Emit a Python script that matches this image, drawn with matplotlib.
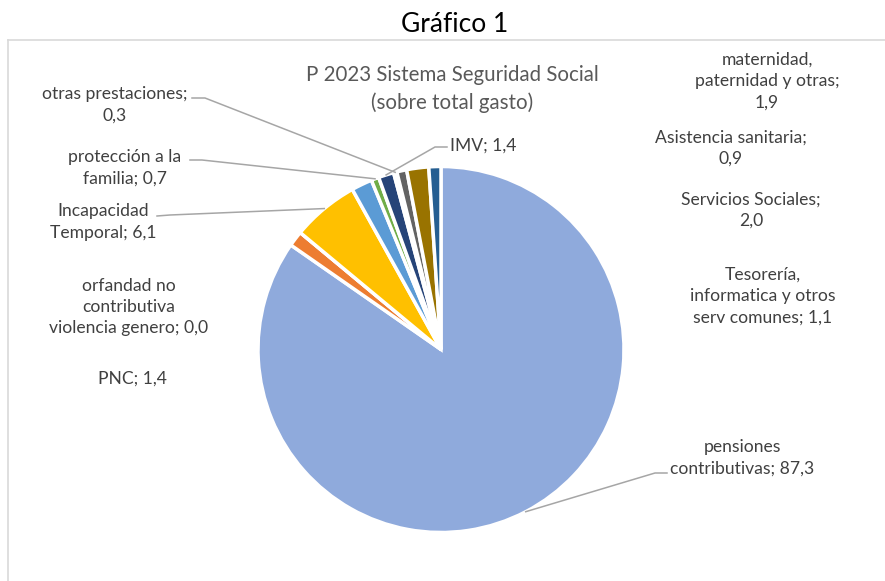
import matplotlib
matplotlib.use("Agg")
import matplotlib.pyplot as plt
from matplotlib.lines import Line2D
import numpy as np

# ---- data ----
categories = ["pensiones contributivas", "PNC", "orfandad no contributiva violencia genero",
              "Incapacidad Temporal", "maternidad, paternidad y otras", "protección a la familia",
              "IMV", "otras prestaciones", "Asistencia sanitaria", "Servicios Sociales",
              "Tesorería, informatica y otros serv comunes"]
values = [87.3, 1.4, 0.0, 6.1, 1.9, 0.7, 1.4, 0.3, 0.9, 2.0, 1.1]
label_texts = ["pensiones\ncontributivas; 87,3", "PNC; 1,4",
               "orfandad no\ncontributiva\nviolencia genero; 0,0",
               "Incapacidad\nTemporal; 6,1", "maternidad,\npaternidad y otras;\n1,9",
               "protección a la\nfamilia; 0,7", "IMV; 1,4", "otras prestaciones;\n0,3",
               "Asistencia sanitaria;\n0,9", "Servicios Sociales;\n2,0",
               "Tesorería,\ninformatica y otros\nserv comunes; 1,1"]
colors = ["#8FAADC", "#ED7D31", "#A5A5A5", "#FFC000", "#5B9BD5", "#70AD47",
          "#264478", "#9E480E", "#636363", "#997300", "#255E91"]
title = "Gráfico 1"
subtitle = "P 2023 Sistema Seguridad Social\n(sobre total gasto)"

# ---- layout (pixels) ----
W, H = 885, 581
cx, cy, R = 441, 349.5, 183
label_pos = [(742, 458), (132, 379), (129, 307), (103, 222), (767, 81), (125, 168),
             (483, 146), (115, 105), (731, 148), (751, 210), (763, 296)]
# leader lines: index -> (start, elbow)
leaders = {0: ((667, 473), (655, 473)),
           3: ((157, 216), (170, 215)),
           5: ((190, 160), (202, 160)),
           6: ((447, 147), (435, 147)),
           7: ((192, 98), (205, 98))}

plt.rcParams['font.family'] = ['Lato', 'DejaVu Sans']

fig = plt.figure(figsize=(W / 100, H / 100), dpi=100)
fig.patch.set_facecolor("white")

def fx(px):
    return px / W

def fy(py):
    return 1 - py / H

# chart area border
fig.add_artist(Line2D([fx(8), fx(8)], [fy(40), fy(600)], color="#D9D9D9", lw=1.2))
fig.add_artist(Line2D([fx(8), fx(900)], [fy(40), fy(40)], color="#D9D9D9", lw=1.2))

ax = fig.add_axes([(cx - R) / W, (H - cy - R) / H, 2 * R / W, 2 * R / H])
wedges, _ = ax.pie(values, colors=colors, startangle=90, counterclock=False, radius=1,
                   wedgeprops=dict(edgecolor="white", linewidth=2.5))
ax.set_xlim(-1, 1)
ax.set_ylim(-1, 1)
ax.axis("off")

fig.text(fx(455), fy(25), title, ha="center", va="center", fontsize=19, color="black")
fig.text(fx(452), fy(89), subtitle, ha="center", va="center", fontsize=14.8,
         color="#595959", linespacing=1.4, multialignment="center")

for i, (txt, (px, py)) in enumerate(zip(label_texts, label_pos)):
    fig.text(fx(px), fy(py), txt, ha="center", va="center", fontsize=12.6,
             color="#404040", linespacing=1.4, multialignment="center")

to_fig = ax.transData + fig.transFigure.inverted()
for i, (start, elbow) in leaders.items():
    w = wedges[i]
    th = np.deg2rad((w.theta1 + w.theta2) / 2)
    rx, ry = to_fig.transform((np.cos(th), np.sin(th)))
    xs = [fx(start[0]), fx(elbow[0]), rx]
    ys = [fy(start[1]), fy(elbow[1]), ry]
    fig.add_artist(Line2D(xs, ys, color="#A6A6A6", lw=1.1))

fig.savefig("out.png", dpi=100, facecolor="white")
